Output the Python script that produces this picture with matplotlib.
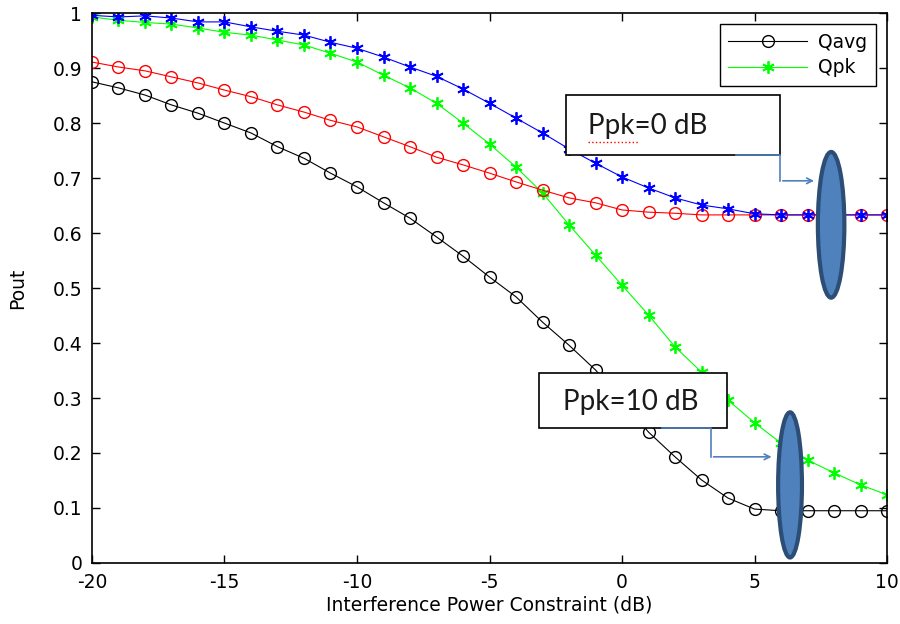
import matplotlib
matplotlib.use("Agg")
import matplotlib.pyplot as plt
from matplotlib.patches import Ellipse
import numpy as np

plt.rcParams['font.family'] = ['DejaVu Sans']
plt.rcParams['axes.unicode_minus'] = False

# interference power constraint (dB)
x_db = np.arange(-20, 11)

# Ppk = 10 dB
qavg_10 = [0.875, 0.864, 0.851, 0.833, 0.818, 0.800, 0.782, 0.757, 0.736, 0.709,
           0.684, 0.655, 0.627, 0.593, 0.558, 0.520, 0.484, 0.438, 0.396, 0.351,
           0.295, 0.238, 0.193, 0.151, 0.118, 0.098, 0.095, 0.095, 0.095, 0.095, 0.095]
qpk_10 = [0.993, 0.987, 0.983, 0.980, 0.973, 0.965, 0.960, 0.951, 0.942, 0.927,
          0.911, 0.887, 0.864, 0.836, 0.800, 0.762, 0.720, 0.673, 0.615, 0.560,
          0.505, 0.451, 0.393, 0.347, 0.296, 0.255, 0.218, 0.187, 0.164, 0.142, 0.124]

# Ppk = 0 dB
qavg_0 = [0.911, 0.902, 0.895, 0.884, 0.873, 0.860, 0.848, 0.833, 0.820, 0.805,
          0.793, 0.775, 0.757, 0.738, 0.724, 0.709, 0.693, 0.678, 0.664, 0.655,
          0.642, 0.638, 0.636, 0.633, 0.633, 0.633, 0.633, 0.633, 0.633, 0.633, 0.633]
qpk_0 = [0.996, 0.993, 0.995, 0.991, 0.984, 0.984, 0.975, 0.967, 0.960, 0.947,
         0.936, 0.920, 0.902, 0.885, 0.862, 0.836, 0.809, 0.782, 0.753, 0.727,
         0.702, 0.682, 0.664, 0.651, 0.644, 0.635, 0.633, 0.633, 0.633, 0.633, 0.633]

star = (6, 2, 0)  # asterisk like matlab '*'

fig = plt.figure(figsize=(9, 6.24), dpi=100)
ax = fig.add_axes([0.1022, 0.0978, 0.8834, 0.8812])

ax.plot(x_db, qavg_10, '-', marker='o', color='k', lw=0.8, ms=8.5, mfc='none', mew=1.0, label='Qavg')
ax.plot(x_db, qpk_10, '-', marker=star, color='#00ff00', lw=0.8, ms=9, mew=1.3, label='Qpk')
ax.plot(x_db, qavg_0, '-', marker='o', color='#ff0000', lw=0.8, ms=8.5, mfc='none', mew=1.0)
ax.plot(x_db, qpk_0, '-', marker=star, color='#0000ff', lw=0.8, ms=9, mew=1.3)

ax.set_xlim(-20, 10)
ax.set_ylim(0, 1)
ax.set_xticks(np.arange(-20, 11, 5))
ax.set_yticks(np.arange(0, 1.01, 0.1))
ax.set_yticklabels(['0', '0.1', '0.2', '0.3', '0.4', '0.5', '0.6', '0.7', '0.8', '0.9', '1'])
ax.tick_params(direction='in', top=True, right=True, length=6, width=1, labelsize=13.5)
ax.tick_params(axis='x', pad=7)
ax.tick_params(axis='y', pad=7)
for s in ax.spines.values():
    s.set_linewidth(1.2)
ax.set_xlabel('Interference Power Constraint (dB)', fontsize=13.5, labelpad=3)
ax.set_ylabel('Pout', fontsize=13.5, labelpad=18)

leg = ax.legend(loc='upper right', fontsize=13.5, fancybox=False, edgecolor='k',
                framealpha=1, handlelength=4.2, handletextpad=0.6, numpoints=1,
                labelspacing=0.35, borderpad=0.45, borderaxespad=0.6)
leg.get_frame().set_linewidth(1.0)

# callouts
box_col = '#4f81bd'
edge_col = '#2c4d75'
callout_font = ['Lato', 'DejaVu Sans']

ax.add_patch(plt.Rectangle((-2.11, 0.742), 8.07, 0.109, fc='white', ec='k', lw=1.2, zorder=3))
ax.text(-1.3, 0.795, 'Ppk=0 dB', fontsize=20, family=callout_font, va='center', ha='left',
        color='#1a1a1a', zorder=4)
ax.plot([-1.3, 0.6], [0.766, 0.766], color='red', lw=1.0, ls=':', zorder=4)
ax.plot([4.3, 5.96, 5.96], [0.742, 0.742, 0.695], color=box_col, lw=1.2, zorder=4)
ax.annotate('', xy=(7.35, 0.695), xytext=(5.96, 0.695),
            arrowprops=dict(arrowstyle='->', color=box_col, lw=1.2), zorder=4)
ax.add_patch(Ellipse((7.89, 0.615), 1.0, 0.265, fc=box_col, ec=edge_col, lw=3, zorder=5))

ax.add_patch(plt.Rectangle((-3.13, 0.245), 7.09, 0.100, fc='white', ec='k', lw=1.2, zorder=3))
ax.text(-2.23, 0.293, 'Ppk=10 dB', fontsize=20, family=callout_font, va='center', ha='left',
        color='#1a1a1a', zorder=4)
ax.plot([1.5, 3.35, 3.35], [0.245, 0.245, 0.193], color=box_col, lw=1.2, zorder=4)
ax.annotate('', xy=(5.75, 0.193), xytext=(3.35, 0.193),
            arrowprops=dict(arrowstyle='->', color=box_col, lw=1.2), zorder=4)
ax.add_patch(Ellipse((6.34, 0.142), 0.9, 0.264, fc=box_col, ec=edge_col, lw=3, zorder=5))

fig.savefig('out.png', dpi=100)
